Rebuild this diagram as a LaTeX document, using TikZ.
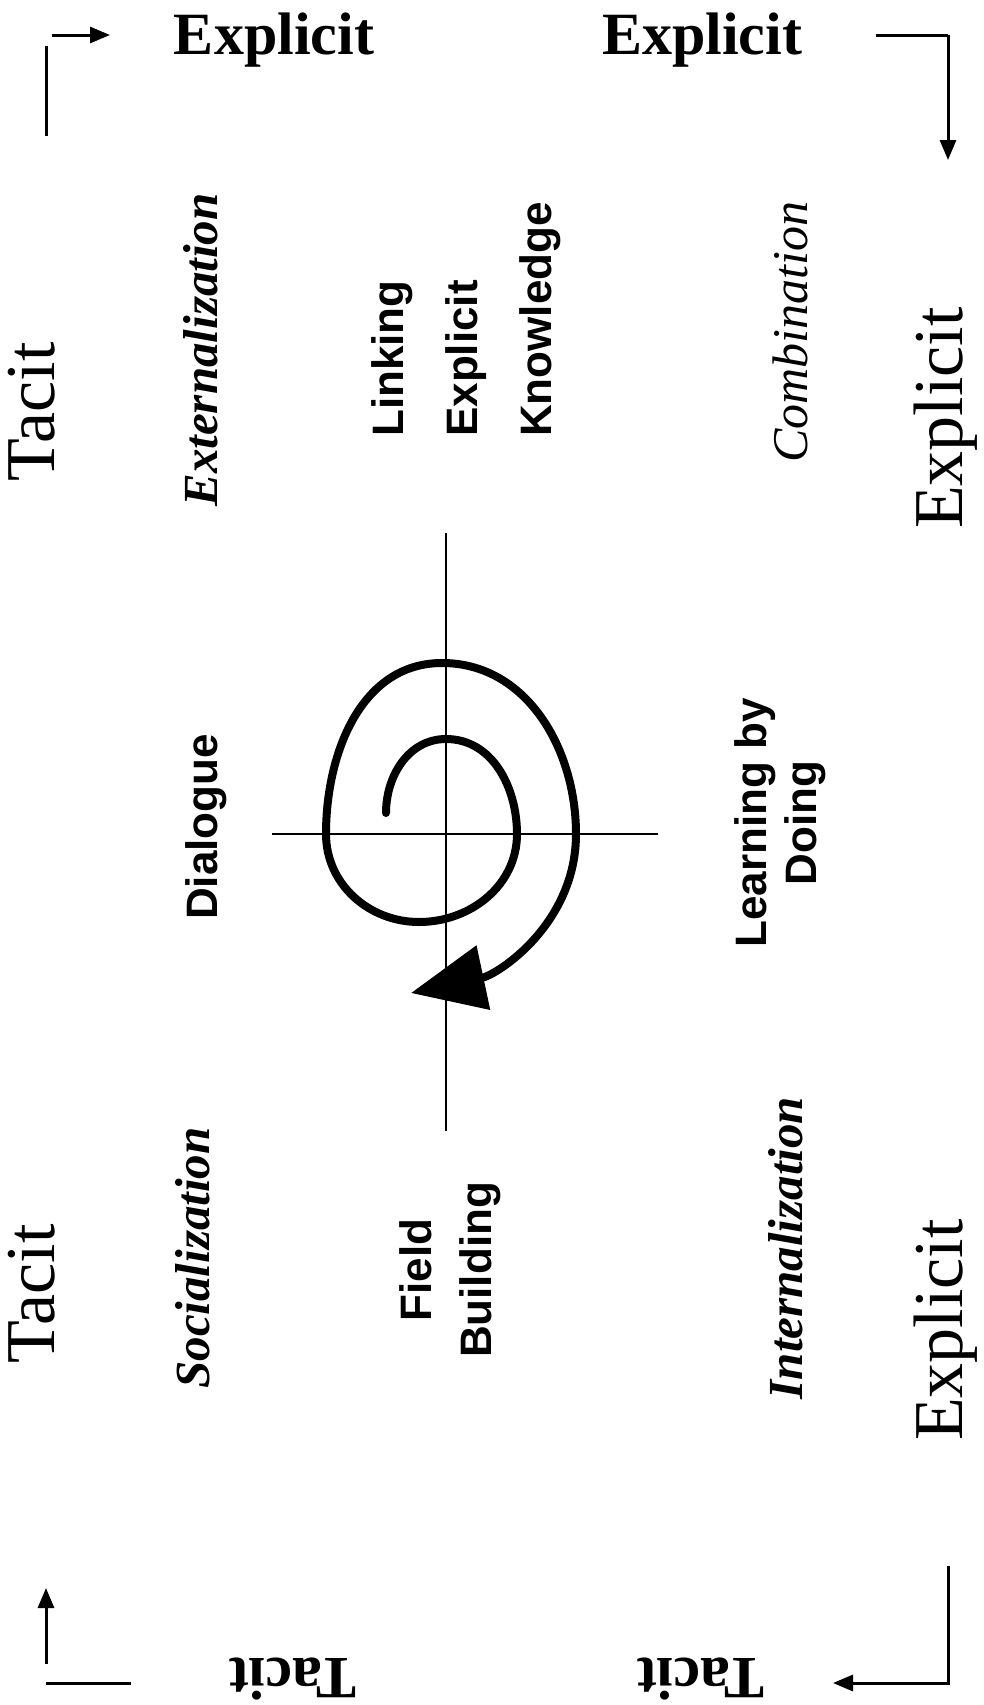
\documentclass[tikz,border=0pt]{standalone}
\usepackage{fontspec}
\setmainfont{Liberation Serif}
\setsansfont{Liberation Sans}
\usetikzlibrary{arrows.meta}

\begin{document}
\begin{tikzpicture}[
  x=1pt, y=1pt,
  toplbl/.style={anchor=base, inner sep=0pt, font=\fontsize{60}{60}\selectfont\bfseries},
  sidelbl/.style={rotate=90, anchor=base, inner sep=0pt, font=\fontsize{70}{70}\selectfont},
  modelbl/.style={rotate=90, anchor=base, inner sep=0pt, font=\fontsize{49}{49}\selectfont\bfseries\itshape},
  actlbl/.style={rotate=90, inner sep=0pt, align=center, font=\sffamily\bfseries\fontsize{44}{50}\selectfont},
  bar/.style={line width=3pt},
  turn/.style={line width=3pt, -{Triangle[length=20pt,width=16pt]}},
  axisline/.style={line width=1.6pt},
  swirl/.style={line width=8pt, line cap=round, -{Triangle[length=74pt,width=64pt]}}
]
\useasboundingbox (0,0) rectangle (983,-1705);

% corner turns
\coordinate (tlA) at (46,-136);
\coordinate (tlB) at (46,-46);
\coordinate (tlC) at (52,-35);
\coordinate (tlD) at (110,-35);
\coordinate (trA) at (876,-35);
\coordinate (trB) at (948,-35);
\coordinate (trC) at (948,-160);
\coordinate (blA) at (46,-1664);
\coordinate (blB) at (46,-1588);
\coordinate (blC) at (46,-1683);
\coordinate (blD) at (131,-1683);
\coordinate (brA) at (948,-1566);
\coordinate (brB) at (948,-1683);
\coordinate (brC) at (833,-1683);

\draw[bar] (tlA) -- (tlB);
\draw[turn] (tlC) -- (tlD);
\draw[bar] (trA) -- (trB);
\draw[turn] (trB) -- (trC);
\draw[turn] (blA) -- (blB);
\draw[bar] (blC) -- (blD);
\draw[turn] (brA) -- (brB) -- (brC);

% outer labels
\node[toplbl] (expTL) at (274,-54) {Explicit};
\node[toplbl] (expTR) at (702,-54) {Explicit};
\node[toplbl, rotate=180] (tacBL) at (293,-1658) {Tacit};
\node[toplbl, rotate=180] (tacBR) at (701,-1658) {Tacit};

\node[sidelbl] (tacL1) at (54,-412) {Tacit};
\node[sidelbl] (tacL2) at (54,-1294) {Tacit};
\node[sidelbl] (expR1) at (962,-418) {Explicit};
\node[sidelbl] (expR2) at (962,-1330) {Explicit};

% modes
\node[modelbl] (ext) at (217,-350) {Externalization};
\node[modelbl, font=\fontsize{50}{50}\selectfont\itshape] (com) at (807,-332) {Combination};
\node[modelbl] (soc) at (209,-1258) {Socialization};
\node[modelbl] (int) at (802,-1248) {Internalization};

% activities
\node[actlbl, align=left, anchor=west, font=\sffamily\bfseries\fontsize{44}{74}\selectfont] (link) at (466,-437) {Linking\\Explicit\\Knowledge};
\node[actlbl] (dia) at (206,-827) {Dialogue};
\node[actlbl] (lbd) at (780,-823) {Learning by\\Doing};
\node[actlbl, font=\sffamily\bfseries\fontsize{44}{60}\selectfont] (fb) at (450,-1270) {Field\\Building};

% axes
\coordinate (vtop) at (446,-533);
\coordinate (vbot) at (446,-1131);
\coordinate (hl) at (272,-834);
\coordinate (hr) at (658,-834);
\draw[axisline] (vtop) -- (vbot);
\draw[axisline] (hl) -- (hr);

% spiral
\coordinate (s0) at (386,-813);
\coordinate (s1) at (446,-739);
\coordinate (s2) at (517,-834);
\coordinate (s3) at (419,-922);
\coordinate (s4) at (326,-834);
\coordinate (s5) at (442,-663);
\coordinate (s6) at (576,-834);
\coordinate (s7) at (411,-993);
\draw[swirl] (s0) to[out=90,in=180] (s1) to[out=0,in=90] (s2)
  to[out=-90,in=0] (s3) to[out=180,in=-90] (s4) to[out=90,in=180] (s5)
  to[out=0,in=90] (s6) to[out=-90,in=12] (s7);
\end{tikzpicture}
\end{document}
